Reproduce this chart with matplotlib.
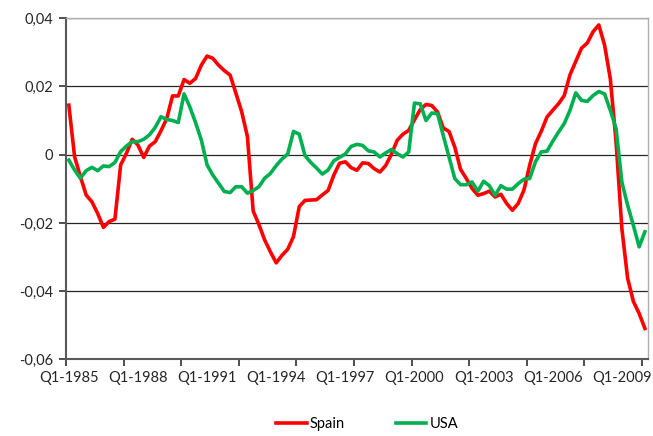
import matplotlib
matplotlib.use("Agg")
import matplotlib.pyplot as plt
from matplotlib.ticker import FuncFormatter, FixedLocator

# Quarterly values, Q1-1985 .. Q1-2010
spain = [
    0.0145, -0.0006, -0.0064, -0.0118, -0.0138, -0.0172, -0.0213, -0.0196, -0.0189, -0.0030,
    0.0004, 0.0045, 0.0028, -0.0008, 0.0025, 0.0038, 0.0070, 0.0106, 0.0172, 0.0172,
    0.0220, 0.0209, 0.0223, 0.0262, 0.0289, 0.0282, 0.0262, 0.0246, 0.0233, 0.0180,
    0.0126, 0.0053, -0.0165, -0.0205, -0.0250, -0.0285, -0.0317, -0.0295, -0.0277, -0.0240,
    -0.0152, -0.0134, -0.0133, -0.0132, -0.0118, -0.0105, -0.0060, -0.0025, -0.0021, -0.0038,
    -0.0046, -0.0024, -0.0026, -0.0041, -0.0051, -0.0032, 0.0001, 0.0042, 0.0060, 0.0071,
    0.0102, 0.0132, 0.0147, 0.0144, 0.0125, 0.0078, 0.0068, 0.0022, -0.0043, -0.0070,
    -0.0099, -0.0119, -0.0114, -0.0107, -0.0124, -0.0116, -0.0143, -0.0163, -0.0143, -0.0104,
    -0.0031, 0.0032, 0.0068, 0.0110, 0.0130, 0.0149, 0.0173, 0.0234, 0.0273, 0.0312,
    0.0327, 0.0360, 0.0380, 0.0321, 0.0222, 0.0037, -0.0216, -0.0362, -0.0430, -0.0465,
    -0.0509,
]
usa = [
    -0.0016, -0.0045, -0.0069, -0.0047, -0.0037, -0.0047, -0.0033, -0.0035, -0.0023, 0.0009,
    0.0025, 0.0038, 0.0038, 0.0045, 0.0058, 0.0080, 0.0111, 0.0103, 0.0100, 0.0094,
    0.0178, 0.0140, 0.0094, 0.0043, -0.0030, -0.0060, -0.0084, -0.0108, -0.0111, -0.0094,
    -0.0094, -0.0113, -0.0105, -0.0094, -0.0069, -0.0055, -0.0032, -0.0013, 0.0002, 0.0068,
    0.0060, -0.0003, -0.0023, -0.0039, -0.0057, -0.0045, -0.0018, -0.0008, 0.0002, 0.0024,
    0.0030, 0.0027, 0.0011, 0.0008, -0.0007, 0.0005, 0.0015, 0.0003, -0.0007, 0.0008,
    0.0151, 0.0149, 0.0100, 0.0122, 0.0120, 0.0056, -0.0007, -0.0070, -0.0088, -0.0088,
    -0.0080, -0.0107, -0.0078, -0.0091, -0.0119, -0.0091, -0.0101, -0.0101, -0.0085, -0.0072,
    -0.0070, -0.0021, 0.0008, 0.0010, 0.0039, 0.0066, 0.0091, 0.0130, 0.0181, 0.0159,
    0.0156, 0.0173, 0.0185, 0.0178, 0.0130, 0.0076, -0.0080, -0.0148, -0.0207, -0.0270,
    -0.0226,
]
quarters = [f"Q{q}-{y}" for y in range(1985, 2011) for q in range(1, 5)][:len(spain)]
label_step = 12
y_ticks = [-0.06, -0.04, -0.02, 0, 0.02, 0.04]


def comma_fmt(v, pos):
    if abs(v) < 1e-9:
        return "0"
    return f"{v:.2f}".replace(".", ",")


plt.rcParams['font.family'] = ['Lato', 'DejaVu Sans']

fig = plt.figure(figsize=(6.53, 4.36), dpi=100)
ax = fig.add_axes([0.101, 0.1755, 0.891, 0.783])

x = list(range(len(quarters)))
ax.plot(x, spain, color='#FF0000', lw=2.6, label='Spain', solid_joinstyle='round', zorder=3)
ax.plot(x, usa, color='#00B050', lw=2.6, label='USA', solid_joinstyle='round', zorder=3)

ax.set_xlim(-0.5, len(quarters) - 0.5)
ax.set_ylim(-0.06, 0.04)

# horizontal gridlines
ax.set_yticks(y_ticks)
ax.yaxis.set_major_formatter(FuncFormatter(comma_fmt))
ax.grid(axis='y', color='#262626', lw=0.9)
ax.set_axisbelow(True)

# category labels every 12 quarters, tick marks every 10 categories
ax.set_xticks(x[::label_step])
ax.set_xticklabels(quarters[::label_step])
ax.xaxis.set_minor_locator(FixedLocator([k - 0.5 for k in range(0, len(quarters), 10)]))
ax.tick_params(axis='x', which='major', length=0, pad=8, labelsize=10.5, colors='#262626')
ax.tick_params(axis='x', which='minor', length=5, width=1.3, color='#404040')
ax.tick_params(axis='y', length=5, width=1.3, color='#404040', labelsize=10.5,
               labelcolor='#262626', pad=4)

for side in ['left', 'bottom']:
    ax.spines[side].set_color('#595959')
    ax.spines[side].set_linewidth(1.5)
for side in ['top', 'right']:
    ax.spines[side].set_color('#AFAFAF')
    ax.spines[side].set_linewidth(1.0)

fig.legend(loc='center', bbox_to_anchor=(0.562, 0.028), ncol=2, frameon=False,
           fontsize=10.5, handlelength=2.1, handletextpad=0.2, columnspacing=3.5)

fig.savefig('out.png', dpi=100)
